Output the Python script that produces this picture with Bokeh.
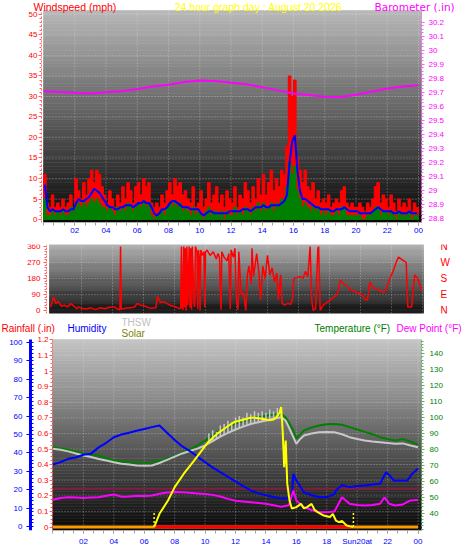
import numpy as np
from bokeh.plotting import figure
from bokeh.models import Range1d, LinearAxis, FixedTicker, Label
from bokeh.layouts import column
from bokeh.embed import file_html
from bokeh.resources import INLINE

FONT = "Liberation Sans"

# ---------------- data ----------------
chart_title = "24 hour graph day : August 20 2026"

# top panel: wind (10-minute samples) and barometer (hourly)
wind_step = 1 / 6
wind_gust = [11, 4, 3, 6, 3, 4, 3, 5, 3, 4, 6, 3, 10, 7, 5, 9, 6, 10, 12, 9, 12, 11, 8, 6,
             4, 7, 5, 3, 6, 4, 8, 5, 9, 7, 4, 8, 9, 6, 10, 8, 9, 4, 3, 4, 3, 6, 4, 7,
             9, 6, 10, 8, 9, 6, 7, 5, 4, 8, 3, 4, 7, 3, 5, 9, 4, 6, 8, 4, 6, 3, 7, 5,
             4, 8, 3, 6, 5, 9, 7, 4, 8, 5, 10, 6, 11, 6, 9, 12, 7, 10, 8, 12, 11, 18, 35, 30,
             34, 15, 12, 9, 12, 8, 7, 9, 5, 7, 4, 5, 4, 6, 3, 4, 5, 4, 7, 8, 4, 3, 4, 3,
             3, 4, 3, 2, 4, 3, 5, 8, 9, 4, 6, 5, 3, 6, 4, 2, 5, 3, 4, 3, 5, 2, 4, 3]
wind_speed = [5, 1, 1, 2, 1, 2, 1, 2, 1, 1, 3, 2, 3, 4, 3, 4, 3, 4, 5, 4, 5, 4, 3, 3,
              2, 3, 2, 1, 3, 2, 3, 2, 4, 3, 2, 3, 4, 3, 4, 3, 4, 1, 0, 1, 1, 2, 1, 3,
              4, 3, 4, 3, 4, 2, 3, 2, 1, 3, 1, 2, 1, 0, 2, 3, 1, 2, 2, 1, 2, 0, 2, 1,
              1, 3, 1, 2, 1, 3, 2, 1, 3, 2, 4, 2, 4, 2, 3, 4, 2, 4, 3, 5, 4, 8, 14, 11,
              13, 7, 5, 3, 4, 3, 2, 3, 2, 3, 1, 2, 1, 2, 1, 1, 2, 1, 3, 3, 1, 1, 1, 1,
              1, 1, 0, 0, 1, 1, 2, 3, 3, 1, 2, 2, 1, 2, 1, 0, 2, 1, 1, 1, 2, 0, 1, 1]
wind_avg = [8.5, 3, 2, 2.5, 2, 2, 2, 2.5, 2, 2, 2.5, 2.5, 4, 5, 4.5, 4.5, 5, 5.5,
            6.5, 7.5, 7, 6.5, 5.5, 4.5, 3.5, 3, 3, 2.5, 2.5, 3, 3, 3.5, 3.5, 3.5, 3, 3.5,
            4, 4, 4.5, 4, 4, 3, 1.5, 1, 1.5, 2.5, 2.5, 3, 4, 4.5, 4.5, 4, 3.5, 3,
            3, 3, 2.5, 2.5, 2.5, 2.5, 1.5, 1, 1.5, 2, 2, 1.5, 1.5, 1.5, 1.5, 1.5, 1.5, 2,
            2, 2, 2, 2, 2.5, 2.5, 2.5, 2, 2.5, 3, 3, 3, 3.5, 3, 3, 3.5, 3.5, 3.5,
            3.5, 4, 4.5, 6, 14, 19, 20.5, 12, 7, 5, 5, 4.5, 4, 3.5, 3, 3, 2.5, 2.5,
            2.5, 2.5, 2, 2, 2.5, 2.5, 2.5, 3, 2.5, 2, 2, 2, 2, 1.5, 1.5, 1.5, 1.5, 1.5,
            2, 2.5, 3, 2.5, 2, 2, 2, 2, 1.5, 1.5, 2, 1.5, 1.5, 1.5, 2, 1.5, 1.5, 1.5]
baro_hours = list(range(25))
baro_inhg = [29.708, 29.704, 29.698, 29.692, 29.702, 29.708, 29.724, 29.742, 29.755,
             29.775, 29.786, 29.782, 29.770, 29.758, 29.738, 29.715, 29.692, 29.682,
             29.670, 29.668, 29.684, 29.705, 29.728, 29.742, 29.752]

# middle panel: wind direction
dir_hours = [0.0, 0.2, 0.35, 0.5, 0.7, 0.9, 1.1, 1.3, 1.5, 1.7, 1.8, 2.0, 2.3, 2.6, 2.9, 3.2, 3.5,
             3.8, 4.1, 4.3, 4.48, 4.52, 4.56, 4.8, 5.1, 5.4, 5.6, 5.8, 6.0, 6.2, 6.5, 6.8, 6.9,
             7.1, 7.3, 7.5, 7.7, 7.9, 8.1, 8.3, 8.4, 8.45, 8.5, 8.55, 8.6, 8.65, 8.7, 8.75,
             8.8, 8.85, 8.95, 9.0, 9.05, 9.1, 9.15, 9.25, 9.3, 9.35, 9.45, 9.5, 9.55, 9.6,
             9.65, 9.7, 9.8, 9.9, 9.95, 10.0, 10.1, 10.3, 10.5, 10.7, 10.8, 10.9, 11.0, 11.05,
             11.2, 11.4, 11.5, 11.6, 11.65, 11.8, 11.9, 12.0, 12.1, 12.15, 12.3, 12.45, 12.6,
             12.7, 12.8, 12.95, 13.0, 13.1, 13.3, 13.45, 13.55, 13.7, 13.85, 14.0, 14.15,
             14.3, 14.45, 14.6, 14.7, 14.85, 14.95, 15.1, 15.3, 15.5, 15.6, 15.7, 15.9, 16.1,
             16.3, 16.45, 16.6, 16.75, 16.85, 16.95, 17.1, 17.25, 17.3, 17.4, 17.6, 17.9,
             18.2, 18.5, 18.7, 18.9, 19.1, 19.3, 19.5, 19.8, 20.1, 20.3, 20.45, 20.6, 20.8,
             21.0, 21.3, 21.5, 21.7, 21.9, 22.1, 22.3, 22.45, 22.7, 22.95, 23.05, 23.3, 23.5,
             23.7, 23.95]
dir_deg = [19, 75, 40, 50, 25, 30, 20, 40, 25, 10, 20, 12, 8, 15, 5, 15, 10,
           18, 20, 10, 3, 360, 8, 12, 15, 18, 40, 30, 28, 20, 12, 15, 80,
           45, 50, 40, 30, 25, 20, 10, 15, 360, 10, 5, 360, 20, 350, 0,
           360, 30, 360, 15, 350, 5, 360, 50, 20, 360, 330, 10, 340, 300,
           0, 340, 310, 330, 20, 330, 340, 310, 330, 290, 320, 300, 5, 330,
           300, 280, 320, 10, 340, 300, 350, 60, 5, 330, 90, 100, 0,
           200, 250, 150, 350, 190, 320, 210, 60, 250, 180, 310, 200,
           240, 160, 210, 60, 200, 40, 30, 40, 35, 60, 180, 185, 190,
           182, 220, 190, 360, 60, 0, 10, 350, 360, 0, 30, 50,
           70, 90, 170, 150, 140, 120, 110, 100, 90, 60, 60, 160, 130,
           120, 110, 100, 130, 180, 220, 270, 300, 285, 270, 20, 20, 200,
           180, 110]

# bottom panel
hum_hours = [0, 0.5, 1, 1.5, 2, 2.5, 3, 3.5, 4, 4.5, 5, 5.5, 6, 6.5, 7, 7.5, 8, 8.5, 9, 9.5,
             10, 10.5, 11, 11.5, 12, 12.5, 13, 13.5, 14, 14.5, 15, 15.5, 15.7, 15.8, 16, 16.5,
             17, 17.5, 18, 18.5, 18.6, 19, 19.5, 20, 20.5, 21, 21.5, 21.9, 22.1, 22.4, 23,
             23.3, 23.6, 24]
hum_pct = [33.7, 35, 36.8, 37.5, 39, 39.6, 43, 45.5, 48.5, 50, 51, 52, 53, 54, 54.9, 51, 47,
           43.5, 41, 38, 35, 32, 29.5, 27, 24.5, 22, 19.6, 18, 17, 16, 15.2, 15.5, 16, 28.6,
           25, 18.6, 17, 16, 16, 17.5, 19.6, 22.5, 21.4, 22, 22.3, 22.8, 23.2, 29.5, 28, 25,
           25, 25, 28.6, 31.5]
temp_hours = [0, 0.5, 1, 1.5, 2, 2.5, 3, 3.5, 4, 4.5, 5, 5.5, 6, 6.5, 7, 7.5, 8, 8.5, 9, 9.5,
              10, 10.5, 11, 11.5, 12, 12.5, 13, 13.5, 14, 14.5, 15, 15.3, 15.5, 15.8, 16, 16.2,
              16.5, 17, 17.5, 18, 18.5, 19, 19.5, 20, 20.5, 21, 21.5, 22, 22.5, 23, 23.5, 24]
temp_f = [81.4, 80.6, 79.8, 78.5, 77.3, 76.8, 76.2, 74.5, 73, 72.5, 72.2, 72, 71.8, 72, 73,
          74.2, 75.8, 78, 80, 82.5, 85.5, 89, 91.8, 94, 96.2, 97.8, 99.2, 100.2, 101.2, 101.8,
          102.4, 100, 97, 91.9, 86.7, 89, 91.9, 93.8, 95, 95.8, 96, 95.5, 94, 92.5, 91, 89.5,
          87.7, 86.5, 85.6, 86.5, 85, 83]
thsw_hours = temp_hours
thsw_f = [80.4, 79.8, 78.8, 77.5, 76.2, 75.2, 74, 73, 72, 71, 70.5, 70, 69.8, 69.9, 71.5,
          73.5, 75.5, 77.5, 79, 80.5, 82.5, 85.2, 88, 90.4, 92.5, 94.3, 96, 97.1, 98.2, 99.2,
          100.2, 98, 94, 87.7, 83.5, 86, 88.7, 90, 90.8, 91, 90.8, 89.5, 87.7, 86.5, 85.6, 85,
          84.5, 84, 83.5, 83.8, 82.5, 81.4]
thsw_spike_hours = [10.25, 10.5, 10.75, 11.0, 11.25, 11.5, 11.75, 12.0, 12.25, 12.5, 12.75,
                    13.0, 13.25, 13.5, 13.75, 14.0, 14.25, 14.5, 14.75, 15.0]
thsw_spike_low = [83.8, 85.2, 86.5, 88, 89.2, 90.4, 91.5, 92.5, 93.4, 94.3, 95.2, 96, 96.6,
                  97.1, 97.7, 98.2, 98.7, 99.2, 99.7, 100.2]
thsw_spike_high = [90, 92, 91, 95, 96, 98, 97, 100, 101, 100, 103, 102, 104, 103, 104, 103,
                   105, 104, 106, 106.5]
dew_hours = [0, 0.5, 1, 1.5, 2, 2.5, 3, 3.5, 4, 4.5, 5, 5.5, 6, 6.5, 7, 7.5, 8, 8.5, 9, 9.5,
             10, 10.5, 11, 11.5, 12, 12.5, 13, 13.5, 14, 14.5, 15, 15.5, 15.8, 16, 16.5, 17,
             17.5, 18, 18.5, 19, 19.5, 20, 20.5, 21, 21.5, 21.8, 22.1, 22.5, 23, 23.5, 24]
dew_f = [48.4, 49.5, 50, 49.8, 49.6, 49.8, 50, 51, 51.7, 50.4, 50.5, 51, 50.8, 51.1, 52.2, 53,
         53.3, 53.2, 52.8, 52.4, 52, 51.5, 50.5, 49, 47.8, 47.4, 46.9, 46.4, 45.9, 45, 44, 45,
         54.2, 48, 43.8, 42, 40.6, 40.6, 41, 50, 45.9, 45.2, 44.8, 45.2, 45.9, 50, 45.9, 44.8,
         45.5, 48, 48.3]
solar_hours = [6.65, 7.0, 7.56, 8.0, 8.6, 9.2, 9.7, 10.2, 10.8, 11.4, 11.9, 12.5, 13.0, 13.4,
               13.8, 14.2, 14.5, 14.7, 14.9, 15.0, 15.1, 15.2, 15.3, 15.4, 15.55, 15.7, 16.0,
               16.3, 16.5, 16.7, 17.0, 17.2, 17.4, 17.8, 18.2, 18.4, 18.6, 18.8, 19.0, 19.3,
               19.5, 19.75]
solar_wm2 = [0, 85, 170, 256, 342, 416, 481, 544, 599, 640, 673, 688, 701, 700, 695, 684, 690,
             705, 735, 769, 619, 384, 555, 280, 170, 119, 128, 149, 120, 128, 149, 110, 96, 74,
             64, 85, 42, 32, 40, 10, 5, 0]
rain_hours = [0, 24]
rain_in = [0, 0]
rain_rate_hours = [6.65, 19.75]
rain_rate = [0, 0]
sun_event_hours = [6.65, 19.75]
reference_level_in = 0.245

# ticks
hour_ticks = [2, 4, 6, 8, 10, 12, 14, 16, 18, 20, 22, 24]
top_hour_labels = ["02", "04", "06", "08", "10", "12", "14", "16", "18", "20", "22", "00"]
bottom_hour_labels = ["02", "04", "06", "08", "10", "12", "14", "16", "18", "Sun20at", "22", "00"]
minor_hours = [i * 2 / 3 for i in range(37)]
wind_ticks = [0, 5, 10, 15, 20, 25, 30, 35, 40, 45, 50]
baro_ticks = [28.8, 28.9, 29.0, 29.1, 29.2, 29.3, 29.4, 29.5, 29.6, 29.7, 29.8, 29.9, 30.0, 30.1, 30.2]
baro_labels = ["28.8", "28.9", "29", "29.1", "29.2", "29.3", "29.4", "29.5", "29.6", "29.7",
               "29.8", "29.9", "30", "30.1", "30.2"]
dir_ticks = [0, 90, 180, 270, 360]
dir_compass = ["N", "E", "S", "W", "N"]
rain_ticks = [0, 0.1, 0.2, 0.3, 0.4, 0.5, 0.6, 0.7, 0.8, 0.9, 1.0, 1.1, 1.2]
rain_labels = ["0", "0.1", "0.2", "0.3", "0.4", "0.5", "0.6", "0.7", "0.8", "0.9", "1", "1.1", "1.2"]
hum_ticks = [0, 10, 20, 30, 40, 50, 60, 70, 80, 90, 100]
temp_ticks = [40, 50, 60, 70, 80, 90, 100, 110, 120, 130, 140]

# ---------------- layout geometry (all frames span the full width) ----------------
W = 468
H1, H2, H3 = 239, 77, 239
# top panel: 15.625 px per hour, 0 h at x=43 ; 4.1 px per mph, 0 mph at y=219
X1 = (-2.752, 27.2)
AREA1_X = (0.0, 24.19)
AREA1_Y = (-0.73, 50.98)
WIND_RANGE = (-0.73, 53.41)
BARO_RANGE = (28.771, 30.357)
BARO_AREA = (28.771, 30.286)
# middle panel
X2 = (-3.2258, 26.968)
AREA2_X = (-0.0645, 24.0645)
DIR_RANGE = (-16.9, 371.25)
# bottom panel: 15.21 px per hour, 0 h at x=52.5 ; 156 px per inch, 0 at y=526.6
X3 = (-3.4517, 27.318)
AREA3_X = (-0.0329, 24.227)
AREA3_Y = (-0.022, 1.2026)
RAIN_RANGE = (-0.022, 1.35)
HUM_RANGE = (-2.17, 114.13)
HUM_AREA = (-2.17, 101.6)
TEMP_RANGE = (29.15, 163.4)
TEMP_AREA = (29.15, 148.97)
SOLAR_RANGE = (-22, 1350)


def top_xy(px, py):
    return (px - 43) / 15.625, (219 - py) / 4.1


def bot_xy(px, py):
    return (px - 52.5) / 15.21, (526.6 - py) / 156


def make_fig(height, xr, yr, top, bottom):
    p = figure(width=W, height=height, x_range=Range1d(*xr), y_range=Range1d(*yr),
               output_backend="svg", toolbar_location=None, y_axis_type=None,
               min_border=0, min_border_left=0, min_border_right=0,
               min_border_top=top, min_border_bottom=bottom,
               background_fill_color="#ffffff", border_fill_color="#ffffff",
               outline_line_color=None)
    p.xgrid.visible = False
    return p


def add_text(p, xy, text, color, size="10.5px", font=FONT, align="left"):
    p.add_layout(Label(x=xy[0], y=xy[1], text=text, text_color=color, text_font=font,
                       text_font_size=size, text_align=align, text_baseline="middle"))


def gradient(p, ax, ay, top_gray, bottom_gray, n=64):
    edges = np.linspace(ay[0], ay[1], n + 1)
    cols = []
    for i in range(n):
        t = (i + 0.5) / n
        v = int(round(bottom_gray + (top_gray - bottom_gray) * t))
        cols.append("#%02x%02x%02x" % (v, v, v))
    r = p.quad(left=ax[0], right=ax[1], bottom=edges[:-1], top=edges[1:],
               fill_color=cols, line_color=cols, line_width=0.6)
    r.level = "image"


def grids(p, ax, ay, yticks):
    style = dict(line_color="#e8e8e8", line_alpha=0.45, line_dash="1 2", line_width=1)
    p.segment(x0=ax[0], x1=ax[1], y0=yticks, y1=yticks, **style)
    p.segment(x0=hour_ticks, x1=hour_ticks, y0=ay[0], y1=ay[1], **style)


def y_axis(loc, ticks, color, line_color, bounds, minor=None, range_name="default",
           standoff=3, overrides=None, size="8px", dash="2 2"):
    ax = LinearAxis(fixed_location=loc, y_range_name=range_name, bounds=bounds,
                    ticker=FixedTicker(ticks=ticks, minor_ticks=minor or []))
    if overrides:
        ax.major_label_overrides = overrides
    ax.major_label_text_color = color
    ax.major_label_text_font = FONT
    ax.major_label_text_font_size = size
    ax.axis_line_color = line_color
    ax.axis_line_dash = dash
    ax.major_tick_line_color = line_color
    ax.minor_tick_line_color = line_color
    ax.major_tick_out = 3
    ax.major_tick_in = 0
    ax.minor_tick_out = 2
    ax.minor_tick_in = 0
    ax.major_label_standoff = standoff
    return ax


def xaxis_style(ax, labels, area, standoff=2):
    ax.ticker = FixedTicker(ticks=hour_ticks, minor_ticks=minor_hours)
    ax.major_label_overrides = dict(zip(hour_ticks, labels))
    ax.bounds = area
    ax.major_label_text_color = "#0000ff"
    ax.major_label_text_font = FONT
    ax.major_label_text_font_size = "8px"
    ax.axis_line_color = "#b0b0b0"
    ax.major_tick_line_color = "#a0a0a0"
    ax.minor_tick_line_color = "#a0a0a0"
    ax.major_tick_out = 3
    ax.major_tick_in = 0
    ax.minor_tick_out = 3
    ax.minor_tick_in = 0
    ax.major_label_standoff = standoff


# ---------------- top panel ----------------
p1 = make_fig(H1, X1, WIND_RANGE, 0, 17)
p1.extra_y_ranges = {"baro": Range1d(*BARO_RANGE)}
gradient(p1, AREA1_X, AREA1_Y, 184, 6)
grids(p1, AREA1_X, AREA1_Y, wind_ticks[1:])
wind_start = np.arange(len(wind_gust)) * wind_step
wind_mid = wind_start + wind_step / 2
p1.vbar(x=wind_mid, width=wind_step, top=wind_gust, bottom=0, color="#ff0000")
p1.vbar(x=wind_mid, width=wind_step, top=wind_speed, bottom=0, color="#008000")
p1.line(wind_mid, wind_avg, color="#0000ff", line_width=2)
p1.line(baro_hours, baro_inhg, color="#ff00ff", line_width=2, y_range_name="baro")
xaxis_style(p1.xaxis[0], top_hour_labels, AREA1_X)
p1.add_layout(y_axis(-0.128, wind_ticks, "#ff0000", "#ff6060", AREA1_Y,
                     minor=list(range(0, 51)), standoff=1), "left")
p1.add_layout(y_axis(AREA1_X[1], baro_ticks, "#ff00ff", "#ff60ff", BARO_AREA,
                     minor=[28.8 + i * 0.025 for i in range(57)], range_name="baro",
                     standoff=4, overrides=dict(zip(baro_ticks, baro_labels))), "right")
add_text(p1, top_xy(33, 6.5), "Windspeed (mph)", "#ff0000")
add_text(p1, top_xy(258, 6.5), chart_title, "#ffff00", align="center")
add_text(p1, top_xy(374, 6.5), "Barometer (.in)", "#ff00ff", font="DejaVu Sans")

# ---------------- middle panel ----------------
p2 = make_fig(H2, X2, DIR_RANGE, 5, 3)
gradient(p2, AREA2_X, DIR_RANGE, 176, 14)
grids(p2, AREA2_X, DIR_RANGE, [90, 180, 270])
p2.line(dir_hours, dir_deg, color="#ff0000", line_width=1.5)
p2.xaxis.visible = False
p2.add_layout(y_axis(-0.258, dir_ticks, "#ff0000", "#ff6060", DIR_RANGE,
                     minor=list(range(0, 361, 15)), standoff=3), "left")
compass = y_axis(AREA2_X[1], dir_ticks, "#ff0000", "#ff6060", DIR_RANGE, standoff=14,
                 overrides=dict(zip(dir_ticks, dir_compass)), size="10px")
compass.axis_line_color = None
compass.major_tick_line_color = None
compass.minor_tick_line_color = None
p2.add_layout(compass, "right")

# ---------------- bottom panel ----------------
p3 = make_fig(H3, X3, RAIN_RANGE, 0, 25)
p3.extra_y_ranges = {"hum": Range1d(*HUM_RANGE), "temp": Range1d(*TEMP_RANGE),
                     "solar": Range1d(*SOLAR_RANGE)}
gradient(p3, AREA3_X, AREA3_Y, 196, 8)
grids(p3, AREA3_X, AREA3_Y, rain_ticks[1:])
p3.segment(x0=AREA3_X[0], x1=AREA3_X[1], y0=reference_level_in, y1=reference_level_in,
           line_color="#802040", line_width=2)
p3.line(temp_hours, temp_f, color="#008000", line_width=2, y_range_name="temp")
p3.line(thsw_hours, thsw_f, color="#c8c8c8", line_width=2, y_range_name="temp")
p3.segment(x0=thsw_spike_hours, y0=thsw_spike_low, x1=thsw_spike_hours, y1=thsw_spike_high,
           color="#c8c8c8", line_width=1.5, y_range_name="temp")
p3.line(hum_hours, hum_pct, color="#0000ff", line_width=2, y_range_name="hum")
p3.line(dew_hours, dew_f, color="#ff00ff", line_width=2, y_range_name="temp")
p3.line(rain_hours, rain_in, color="#ff9900", line_width=3)
p3.line(rain_rate_hours, rain_rate, color="#ff0000", line_width=3)
p3.segment(x0=sun_event_hours, y0=0, x1=sun_event_hours, y1=0.1, color="#ffff00",
           line_width=1.5, line_dash="2 2")
p3.line(solar_hours, solar_wm2, color="#ffff00", line_width=2, y_range_name="solar")
xaxis_style(p3.xaxis[0], bottom_hour_labels, AREA3_X, standoff=3)

p3.add_layout(y_axis(AREA3_X[0], rain_ticks, "#ff0000", "#ff6060", AREA3_Y,
                     minor=[i * 0.025 for i in range(49)], standoff=1,
                     overrides=dict(zip(rain_ticks, rain_labels))), "left")
hum_ax = y_axis(-1.479, hum_ticks, "#0000ff", "#0000ff", HUM_AREA,
                minor=list(range(0, 101, 2)), range_name="hum", standoff=4, dash="solid")
hum_ax.axis_line_width = 3
hum_ax.major_tick_out = 4
hum_ax.minor_tick_out = 0
hum_ax.minor_tick_in = 3
p3.add_layout(hum_ax, "left")
p3.add_layout(y_axis(AREA3_X[1], temp_ticks, "#008000", "#60b060", TEMP_AREA,
                     minor=list(range(30, 150, 2)), range_name="temp", standoff=5), "right")

add_text(p3, bot_xy(1, 328), "Rainfall (.in)", "#ff0000", size="10px")
add_text(p3, bot_xy(67, 328), "Humidity", "#0000ff", size="10px")
add_text(p3, bot_xy(121, 322), "THSW", "#c0c0c0", size="10px")
add_text(p3, bot_xy(121, 333.5), "Solar", "#808000", size="10px")
add_text(p3, bot_xy(314, 328), "Temperature (°F)", "#008000", size="10px")
add_text(p3, bot_xy(396, 328), "Dew Point (°F)", "#ff00ff", size="10px")

layout = column(p1, p2, p3)
open("out.html", "w").write(file_html(layout, INLINE))
